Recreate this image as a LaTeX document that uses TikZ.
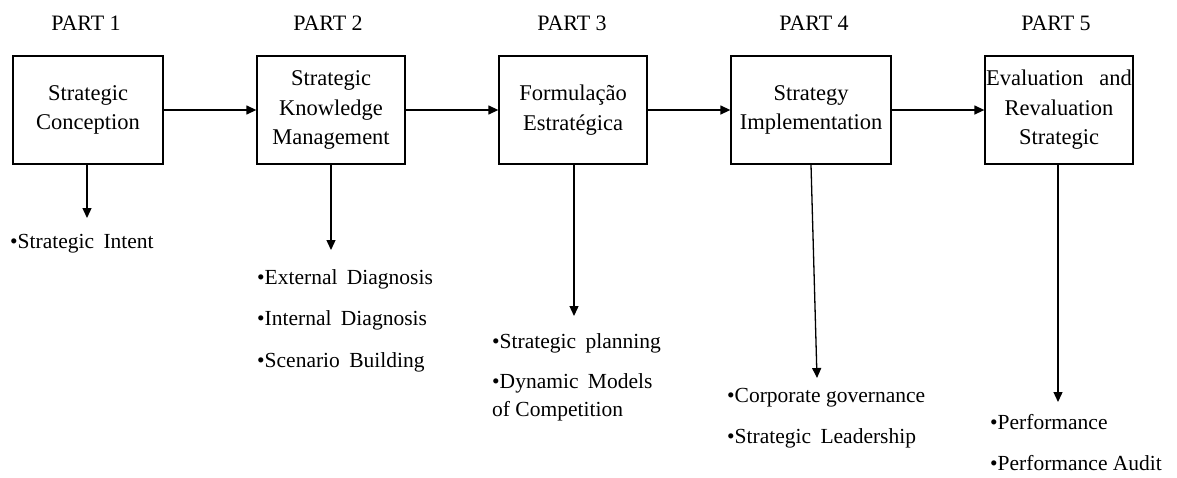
\documentclass[tikz,border=0pt]{standalone}
\usepackage{fontspec}
\setmainfont{Liberation Serif}
\usetikzlibrary{arrows.meta}
\begin{document}
\begin{tikzpicture}[x=1pt,y=-1pt,
  box/.style={draw,line width=1.3pt,minimum height=108pt,align=center,inner sep=0pt,
    font=\fontsize{22.5}{29.5}\selectfont},
  part/.style={font=\fontsize{22}{26}\selectfont,inner sep=0pt},
  item/.style={anchor=west,inner sep=0pt,align=left,text height=15pt,text depth=5pt,
    font=\fontsize{21.5}{28}\selectfont},
  conn/.style={line width=1.3pt,-{Triangle[length=10pt,width=9pt]}}]
\useasboundingbox (0,0) rectangle (1177,477);
% part labels
\node[part] (p1) at (86,23) {PART 1};
\node[part] (p2) at (328,23) {PART 2};
\node[part] (p3) at (572,23) {PART 3};
\node[part] (p4) at (814,23) {PART 4};
\node[part] (p5) at (1056,23) {PART 5};
% boxes
\node[box,minimum width=150pt] (b1) at (88,110) {Strategic\\Conception};
\node[box,minimum width=148pt] (b2) at (331,110) {Strategic\\Knowledge\\Management};
\node[box,minimum width=148pt] (b3) at (573,110) {Formulação\\Estratégica};
\node[box,minimum width=160pt] (b4) at (811,110) {Strategy\\Implementation};
\node[box,minimum width=148pt] (b5) at (1059,110) {Evaluation\hspace{10pt} and\\Revaluation\\Strategic};
% horizontal connectors
\draw[conn] (b1.east) -- (b2.west);
\draw[conn] (b2.east) -- (b3.west);
\draw[conn] (b3.east) -- (b4.west);
\draw[conn] (b4.east) -- (b5.west);
% arrow tips
\coordinate (t1) at (87,218);
\coordinate (t2) at (331,250);
\coordinate (t3) at (574,316);
\coordinate (t4) at (817,378);
\coordinate (t5) at (1058,402);
\draw[conn] (b1.south -| t1) -- (t1);
\draw[conn] (b2.south -| t2) -- (t2);
\draw[conn] (b3.south -| t3) -- (t3);
\draw[conn] (b4.south) -- (t4);
\draw[conn] (b5.south -| t5) -- (t5);
% items
\node[item] (i1) at (10,243) {•Strategic\hspace{4pt} Intent};
\node[item] (i2a) at (257,279) {•External\hspace{4pt} Diagnosis};
\node[item] (i2b) at (257,320) {•Internal\hspace{4pt} Diagnosis};
\node[item] (i2c) at (257,362) {•Scenario\hspace{4pt} Building};
\node[item] (i3a) at (492,343) {•Strategic\hspace{4pt} planning};
\node[item,text height=,text depth=] (i3b) at (492,397) {•Dynamic\hspace{4pt} Models\\of Competition};
\node[item] (i4a) at (727,397) {•Corporate governance};
\node[item] (i4b) at (727,438) {•Strategic\hspace{4pt} Leadership};
\node[item] (i5a) at (990,424) {•Performance};
\node[item] (i5b) at (990,465) {•Performance Audit};
\end{tikzpicture}
\end{document}
